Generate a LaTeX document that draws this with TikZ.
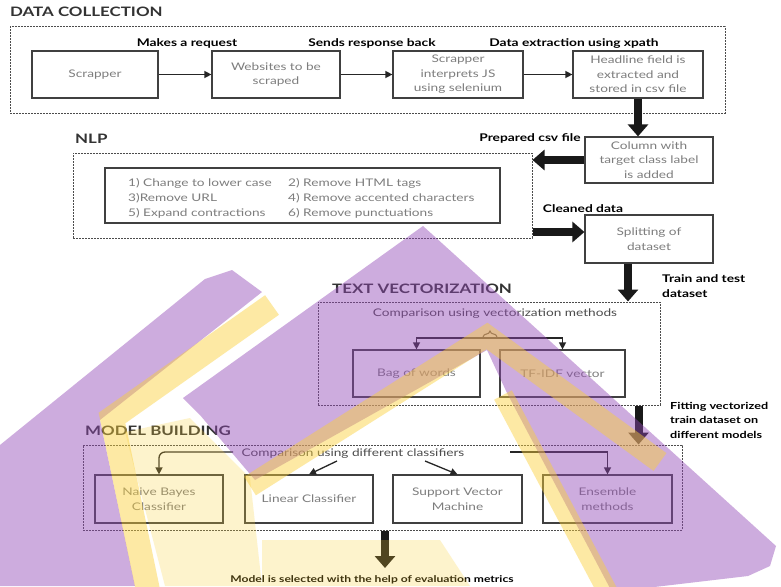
\documentclass[tikz,border=0pt]{standalone}
\usepackage{fontspec}
\setmainfont{Lato}[FakeStretch=1.3]
\usetikzlibrary{arrows.meta,decorations.pathreplacing,calc}
\definecolor{wmP}{RGB}{146,71,182}
\definecolor{wmY}{RGB}{251,208,55}
\definecolor{boxtext}{RGB}{125,125,125}
\begin{document}
\begin{tikzpicture}[x=1pt,y=-1pt,
  box/.style={draw=black!75,line width=1.2pt,align=center,text=boxtext,font=\fontsize{10.5}{14.5}\selectfont,inner sep=1pt},
  dashbox/.style={draw=black!70,line width=1pt,dash pattern=on 2pt off 1pt,inner sep=0pt},
  lbl/.style={font=\bfseries\fontsize{10.6}{15}\selectfont,text=black,inner sep=0pt},
  ttl/.style={font=\bfseries\fontsize{13}{15}\selectfont,text=black!80,inner sep=0pt},
  item/.style={font=\fontsize{10.5}{12}\selectfont,text=boxtext,inner sep=0pt,anchor=base west},
  cmptext/.style={font=\fontsize{10.5}{12}\selectfont,text=black!70,inner sep=1pt},
  arr/.style={line width=1.3pt,draw=black!85,-{Triangle[width=7pt,length=7pt]}},
  bigarr/.style={line width=8pt,draw=black!90,-{Triangle[width=20pt,length=12pt]}}]
\useasboundingbox (0,0) rectangle (781,586);
\fill[white] (0,0) rectangle (781,586);

% ---------- DATA COLLECTION ----------
\node[ttl,anchor=base west] (tdc) at (10,17) {DATA COLLECTION};
\node[dashbox,minimum width=715pt,minimum height=86pt] (dc) at (367.5,70) {};
\node[box,minimum width=126pt,minimum height=47pt] (scrap) at (95,74.5) {Scrapper};
\node[box,minimum width=128pt,minimum height=47pt] (web) at (276,74.5) {Websites to be\\scraped};
\node[box,minimum width=130pt,minimum height=47pt] (interp) at (458,74.5) {Scrapper\\interprets JS\\using selenium};
\node[box,minimum width=130pt,minimum height=47pt] (head) at (638,74.5) {Headline field is\\extracted and\\stored in csv file};
\draw[arr] (scrap) -- (web);
\draw[arr] (web) -- (interp);
\draw[arr] (interp) -- (head);
\node[lbl,anchor=base] (l1) at (187,47) {Makes a request};
\node[lbl,anchor=base] (l2) at (372,47) {Sends response back};
\node[lbl,anchor=base] (l3) at (574,47) {Data extraction using xpath};

% ---------- column / NLP ----------
\node[box,minimum width=128pt,minimum height=46pt] (col) at (649,160) {Column with\\target class label\\is added};
\draw[bigarr] (head.south) -- (head.south |- col.north);
\node[lbl,anchor=base] (l4) at (530,141) {Prepared csv file};

\node[ttl,anchor=base west] (tnlp) at (75,143) {NLP};
\node[dashbox,minimum width=459pt,minimum height=85pt] (nlp) at (302.5,195.5) {};
\node[box,minimum width=395pt,minimum height=55pt] (steps) at (302.5,195.5) {};
\node[item] (s1) at (128,186) {1) Change to lower case};
\node[item] (s2) at (288,186) {2) Remove HTML tags};
\node[item] (s3) at (128,201) {3)Remove URL};
\node[item] (s4) at (288,201) {4)  Remove accented characters};
\node[item] (s5) at (128,216) {5) Expand contractions};
\node[item] (s6) at (288,216) {6) Remove punctuations};
\draw[bigarr] (col.west) -- (col.west -| nlp.east);

\node[box,minimum width=128pt,minimum height=48pt] (split) at (649,239) {Splitting of\\dataset};
\draw[bigarr] ([yshift=7pt]split.west -| nlp.east) -- ([yshift=7pt]split.west);
\node[lbl,anchor=base] (l5) at (583,212) {Cleaned data};

% ---------- TEXT VECTORIZATION ----------
\node[ttl,anchor=base west] (ttv) at (332,293) {TEXT VECTORIZATION};
\node[dashbox,minimum width=342pt,minimum height=103pt] (tv) at (489,353.5) {};
\draw[bigarr] ([xshift=-21pt]split.south) -- ([xshift=-21pt]split.south |- tv.north);
\node[lbl,anchor=base west,align=left] (l6) at (662,297) {Train and test\\dataset};
\node[cmptext,anchor=base] (cmpv) at (495,316) {Comparison using vectorization methods};
\node[box,minimum width=127pt,minimum height=47pt] (bag) at (416.5,373.5) {Bag of words};
\node[box,minimum width=125pt,minimum height=47pt] (tfidf) at (562.5,373.5) {TF-IDF vector};
\coordinate (bsplit) at (490,338);
\draw[line width=1.1pt,draw=black!80,decorate,decoration={brace,amplitude=6pt}] (483,337) -- (497,337);
\draw[arr] (bsplit) -| (bag.north);
\draw[arr] (bsplit) -| (tfidf.north);

% ---------- MODEL BUILDING ----------
\node[ttl,anchor=base west] (tmb) at (85,435) {MODEL BUILDING};
\node[dashbox,minimum width=599pt,minimum height=85pt] (mb) at (382.5,487.5) {};
\draw[bigarr] ([xshift=-22pt]tv.south east) -- ([xshift=-22pt]tv.south east |- mb.north);
\node[lbl,anchor=base west,align=left,font=\bfseries\fontsize{9.7}{14.5}\selectfont] (l7) at (670,438) {Fitting vectorized\\train dataset on\\different models};
\node[cmptext,anchor=base] (cmpm) at (353,456) {Comparison using different classifiers};
\node[box,minimum width=128pt,minimum height=48pt] (naive) at (159,499) {Naive Bayes\\Classifier};
\node[box,minimum width=128pt,minimum height=48pt] (linear) at (309,499) {Linear Classifier};
\node[box,minimum width=129pt,minimum height=48pt] (svm) at (457.5,499) {Support Vector\\Machine};
\node[box,minimum width=129pt,minimum height=48pt] (ens) at (607.5,499) {Ensemble\\methods};
\coordinate (nstart) at (233,452);
\coordinate (lstart) at (337,461);
\coordinate (sstart) at (425,461);
\coordinate (estart) at (510,452);
\draw[arr,rounded corners=6pt] (nstart) -| (naive.north);
\draw[arr] (lstart) -- (linear.north);
\draw[arr] (sstart) -- (svm.north);
\draw[arr] (estart) -| (ens.north);
\coordinate (mend) at (385,568);
\draw[bigarr] (mb.south -| mend) -- (mend);
\node[lbl,anchor=base,font=\bfseries\fontsize{9.3}{12}\selectfont] (l8) at (372,582) {Model is selected with the help of evaluation metrics};

% ---------- watermark ----------
\begin{scope}[opacity=0.45]
  \fill[wmP] (205,279) -- (232,270) -- (262,292) -- (100,420) -- (135,586) -- (0,586) -- (0,445) -- cycle;
  \fill[wmP] (183,398) -- (423,226) -- (776,546) -- (770,566) -- (748,576) -- (612,592) -- (507,393) -- (487,350) -- (255,480) -- (200,415) -- cycle;
  \draw[wmY,line width=24pt] (272,305) -- (112,418) -- (150,600);
  \draw[wmY,line width=22pt,line join=miter] (250,486) -- (487,336) -- (660,462);
  \draw[wmY,line width=20pt] (503,395) -- (612,600);
\end{scope}
\begin{scope}[opacity=0.25]
  \fill[wmY] (125,432) -- (190,418) -- (250,478) -- (262,586) -- (165,586) -- cycle;
  \fill[wmY] (262,540) -- (440,540) -- (470,586) -- (262,586) -- cycle;
\end{scope}
\end{tikzpicture}
\end{document}
